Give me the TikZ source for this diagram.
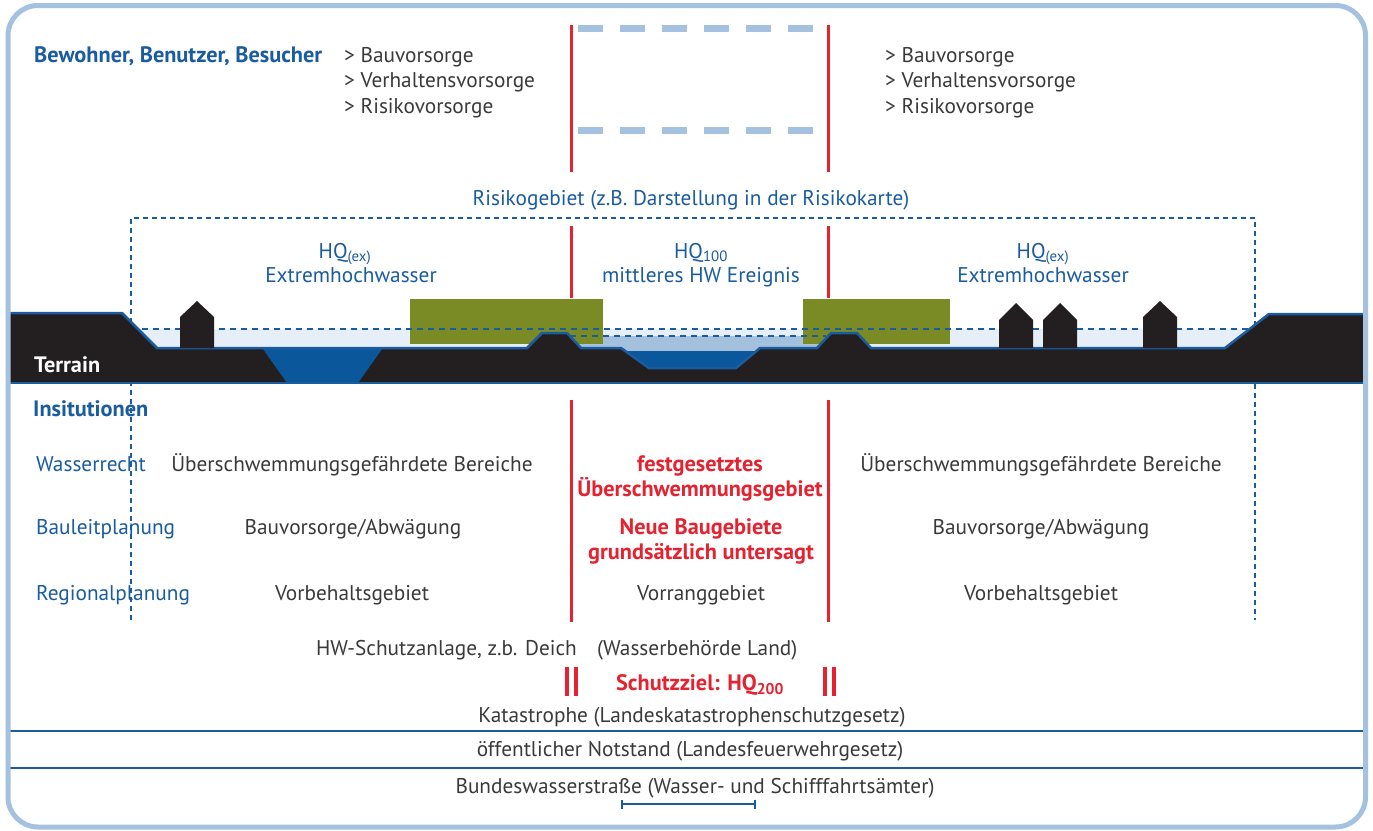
\documentclass[tikz,border=0pt]{standalone}
\usepackage{fontspec}
\setmainfont{PT Sans}
\usetikzlibrary{arrows.meta}
\definecolor{inkblue}{HTML}{1A5C9E}
\definecolor{framebl}{HTML}{A4C2E0}
\definecolor{alarm}{HTML}{E52330}
\definecolor{meadow}{HTML}{7A8B25}
\definecolor{soil}{HTML}{231F20}
\definecolor{river}{HTML}{0B579B}
\definecolor{floodlt}{HTML}{E6EEF7}
\definecolor{floodmd}{HTML}{A3C0DD}
\definecolor{txtgrey}{HTML}{3A3A3A}
\newcommand\basefs{\fontsize{21.3}{25}\selectfont}
\newcommand\boldfs{\fontsize{22.3}{26}\selectfont\bfseries}
\tikzset{
  lbl/.style={inner sep=0pt, font=\basefs, text=txtgrey},
  lblblue/.style={lbl, text=inkblue},
  lblhead/.style={lbl, text=inkblue, font=\boldfs},
  lblred/.style={lbl, text=alarm, font=\boldfs},
  zoneline/.style={alarm, line width=3pt},
  riskline/.style={inkblue, line width=2pt, dash pattern=on 5pt off 4pt},
  levelline/.style={inkblue, line width=2pt, dash pattern=on 6pt off 5pt},
  topdash/.style={framebl, line width=7pt, dash pattern=on 25pt off 17pt},
  hrule/.style={inkblue, line width=2pt},
  house/.style={fill=soil},
}
\begin{document}
\begin{tikzpicture}[x=1pt,y=-1pt]
\useasboundingbox (0,0) rectangle (1373,830);
\fill[white] (0,0) rectangle (1373,830);

% --- zone boundaries (red) and the open top box
\foreach \zx in {571,828}{
  \draw[zoneline] (\zx,25) -- (\zx,172);
  \draw[zoneline] (\zx,226) -- (\zx,298);
  \draw[zoneline] (\zx,400) -- (\zx,622);
}
\draw[topdash] (578,28) -- (815,28);
\draw[topdash] (578,130) -- (815,130);

% --- water bodies behind the terrain
\fill[floodlt] (131,329) rectangle (1255,352);
\fill[floodmd] (565,336) rectangle (835,352);
\fill[river] (600,351) rectangle (780,370);

% --- meadows
\fill[meadow] (410,299) rectangle (603,344);
\fill[meadow] (803,299) rectangle (950,344);

% --- risk area and water levels
\draw[riskline] (131,620) -- (131,218) -- (1255,218) -- (1255,620);
\draw[levelline] (131,329) -- (1255,329);
\draw[levelline] (570,336) -- (826,336);

% --- terrain profile
\fill[soil] (10,313) -- (122,313) -- (157,348) -- (527,348) -- (542,333)
  -- (567,333) -- (581,348) -- (621,348) -- (649,368) -- (736,368)
  -- (760,348) -- (817,348) -- (831,333) -- (857,333) -- (871,348)
  -- (1225,348) -- (1269,314) -- (1363,314) -- (1363,383) -- (10,383) -- cycle;
\fill[river] (263,349) -- (382,349) -- (358,383) -- (287,383) -- cycle;
\draw[inkblue, line width=2.5pt, line join=miter] (10,313) -- (122,313) -- (157,348) -- (527,348) -- (542,333)
  -- (567,333) -- (581,348) -- (621,348) -- (649,368) -- (736,368)
  -- (760,348) -- (817,348) -- (831,333) -- (857,333) -- (871,348)
  -- (1225,348) -- (1269,314) -- (1363,314);
\draw[inkblue, line width=2.5pt] (10,383) -- (1363,383);

% --- houses
\foreach \hx/\ht/\he in {180/301/317, 999/303/320, 1043/303/320, 1143/301/317}{
  \fill[house] (\hx,348) -- (\hx,\he) -- ({\hx+17},\ht) -- ({\hx+34},\he) -- ({\hx+34},348) -- cycle;
}

% --- texts above the terrain
\node[lblhead, anchor=base west] (who) at (34,62) {Bewohner, Benutzer, Besucher};
\node[lbl, anchor=base west] (lbau) at (344,62) {> Bauvorsorge};
\node[lbl, anchor=base west] (lverh) at (344,87) {> Verhaltensvorsorge};
\node[lbl, anchor=base west] (lrisk) at (344,113) {> Risikovorsorge};
\node[lbl, anchor=base west] (rbau) at (885,62) {> Bauvorsorge};
\node[lbl, anchor=base west] (rverh) at (885,87) {> Verhaltensvorsorge};
\node[lbl, anchor=base west] (rrisk) at (885,113) {> Risikovorsorge};

\node[lblblue, anchor=base] (riskarea) at (691,205) {Risikogebiet (z.B. Darstellung in der Risikokarte)};

\node[lblblue, anchor=base] (hqexl) at (345,258) {HQ\textsubscript{(ex)}};
\node[lblblue, anchor=base] (extl) at (351,282) {Extremhochwasser};
\node[lblblue, anchor=base] (hqmid) at (701,258) {HQ\textsubscript{100}};
\node[lblblue, anchor=base] (midev) at (701,282) {mittleres HW Ereignis};
\node[lblblue, anchor=base] (hqexr) at (1043,258) {HQ\textsubscript{(ex)}};
\node[lblblue, anchor=base] (extr) at (1043,282) {Extremhochwasser};

\node[lbl, text=white, font=\boldfs, anchor=base west] (terrain) at (34,372) {Terrain};

% --- institutions
\node[lblhead, anchor=base west] (inst) at (33,416) {Insitutionen};
\node[lblblue, anchor=base west] (wr) at (36,471) {Wasserrecht};
\node[lblblue, anchor=base west] (blp) at (36,534) {Bauleitplanung};
\node[lblblue, anchor=base west] (rp) at (36,600) {Regionalplanung};

\node[lbl, anchor=base] (wrl) at (352,471) {Überschwemmungsgefährdete Bereiche};
\node[lbl, anchor=base] (wrr) at (1041,471) {Überschwemmungsgefährdete Bereiche};
\node[lblred, anchor=base] (wrm1) at (700,471) {festgesetztes};
\node[lblred, anchor=base] (wrm2) at (700,496) {Überschwemmungsgebiet};

\node[lbl, anchor=base] (blpl) at (353,534) {Bauvorsorge/Abwägung};
\node[lbl, anchor=base] (blpr) at (1041,534) {Bauvorsorge/Abwägung};
\node[lblred, anchor=base] (blpm1) at (701,534) {Neue Baugebiete};
\node[lblred, anchor=base] (blpm2) at (701,559) {grundsätzlich untersagt};

\node[lbl, anchor=base] (rpl) at (352,600) {Vorbehaltsgebiet};
\node[lbl, anchor=base] (rpm) at (701,600) {Vorranggebiet};
\node[lbl, anchor=base] (rpr) at (1041,600) {Vorbehaltsgebiet};

% --- protection and emergency levels
\node[lbl, anchor=base east] (dike) at (577,655) {HW-Schutzanlage, z.b. Deich};
\node[lbl, anchor=base west] (wbl) at (597,655) {(Wasserbehörde Land)};
\foreach \bx in {566.5,575.5,825,834}{
  \draw[alarm, line width=4pt] (\bx,667) -- (\bx,696);
}
\node[lblred, anchor=base] (goal) at (700,690) {Schutzziel: HQ\textsubscript{200}};
\node[lbl, anchor=base] (kat) at (692,722) {Katastrophe (Landeskatastrophenschutzgesetz)};
\draw[hrule] (10,731) -- (1363,731);
\node[lbl, anchor=base] (notst) at (690,756) {öffentlicher Notstand (Landesfeuerwehrgesetz)};
\draw[hrule] (10,768) -- (1363,768);
\node[lbl, anchor=base] (bws) at (695,793) {Bundeswasserstraße (Wasser- und Schifffahrtsämter)};
\draw[inkblue, line width=2pt, {Bar[width=9pt]}-{Bar[width=9pt]}] (621,804) -- (756,804);

% --- outer frame
\draw[framebl, line width=5pt, rounded corners=30pt] (8,5.5) rectangle (1365.5,827);
\end{tikzpicture}
\end{document}
